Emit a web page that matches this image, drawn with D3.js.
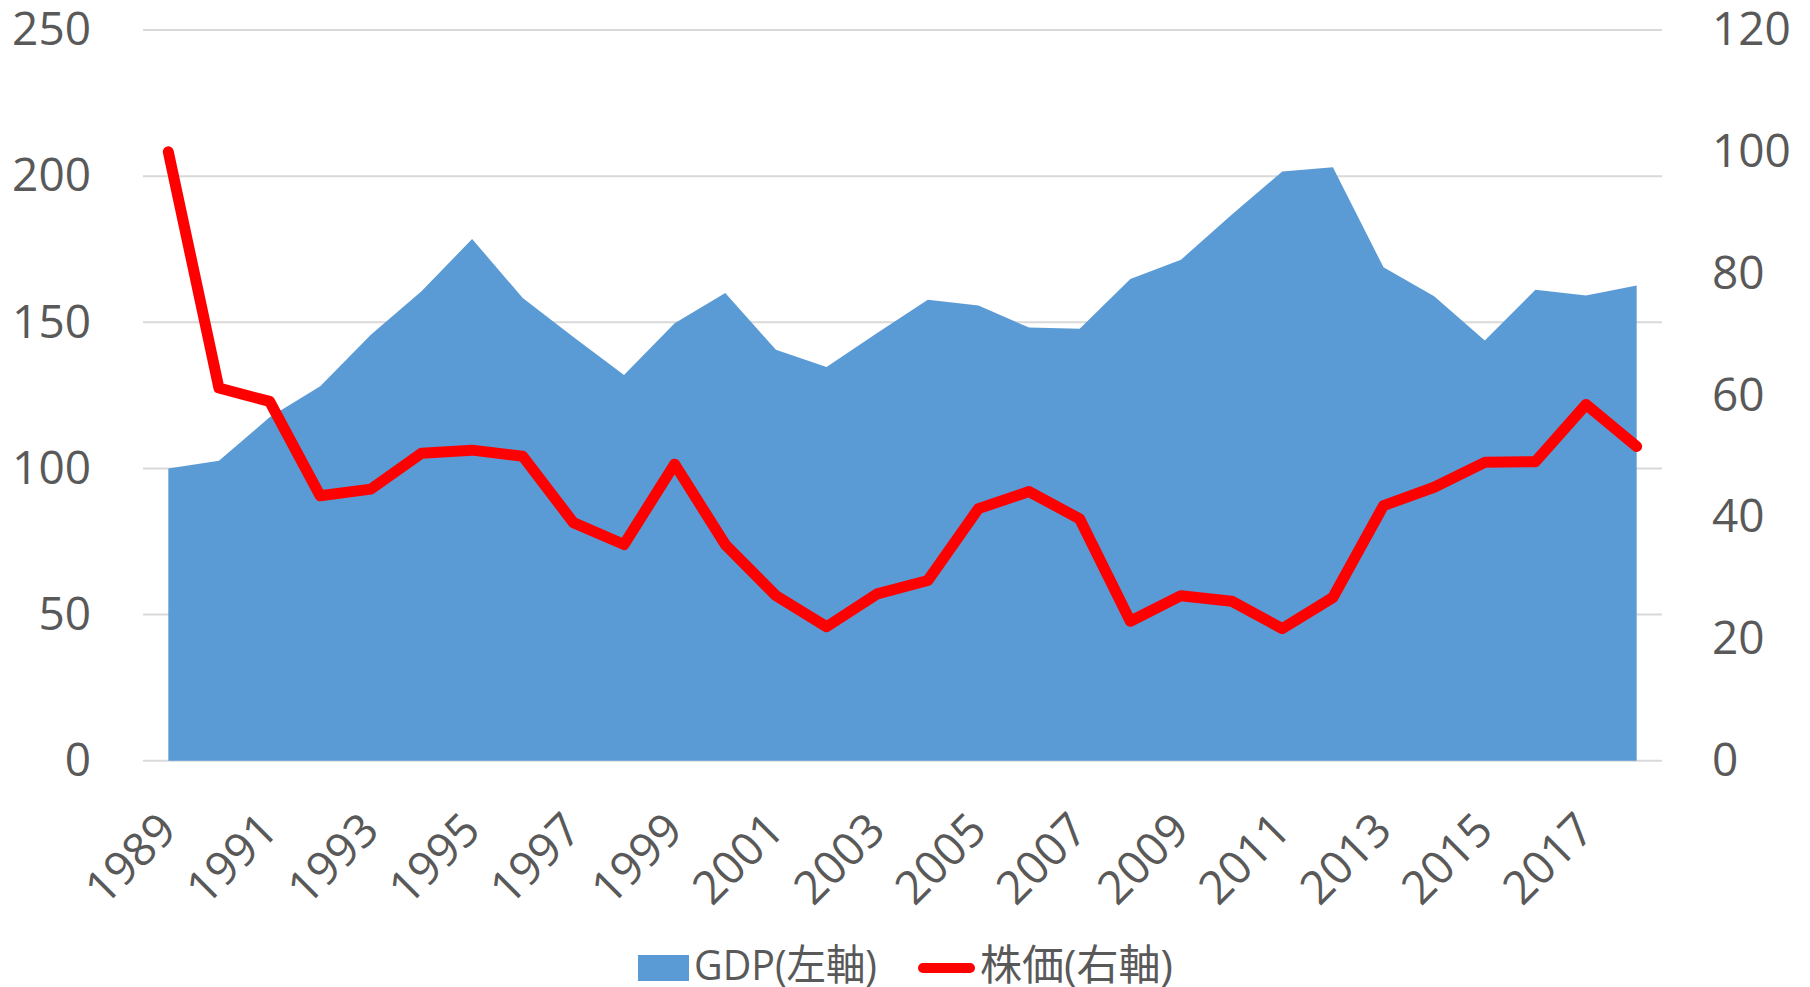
<!DOCTYPE html>
<html>
<head>
<meta charset="utf-8">
<script src="https://cdn.jsdelivr.net/npm/d3@7"></script>
<style>
  body { margin: 0; background: #fff; }
</style>
</head>
<body>
<div id="chart"></div>
<script>
// ── data ──────────────────────────────────────────────────────────────────
const years = [1989, 1990, 1991, 1992, 1993, 1994, 1995, 1996, 1997, 1998,
               1999, 2000, 2001, 2002, 2003, 2004, 2005, 2006, 2007, 2008,
               2009, 2010, 2011, 2012, 2013, 2014, 2015, 2016, 2017, 2018];
const gdp = [100, 102.6, 117.5, 128.1, 145.7, 160.6, 178.5, 158.3, 145, 132,
             149.7, 160, 140.6, 134.7, 146.3, 157.7, 155.7, 148.2, 147.8, 164.8,
             171.4, 186.8, 201.6, 203, 168.8, 158.9, 143.8, 161.1, 159.2, 162.6];
const stock = [100, 61.2, 59, 43.5, 44.6, 50.5, 51, 50, 39.1, 35.5,
               48.7, 35.5, 27.1, 22, 27.4, 29.6, 41.4, 44.2, 39.7, 22.9,
               27.1, 26.2, 21.7, 26.8, 41.9, 44.9, 49, 49.1, 58.5, 51.6];
const leftTicks = [0, 50, 100, 150, 200, 250];
const rightTicks = [0, 20, 40, 60, 80, 100, 120];
const yearTicks = [1989, 1991, 1993, 1995, 1997, 1999, 2001, 2003,
                   2005, 2007, 2009, 2011, 2013, 2015, 2017];
const seriesNames = ['GDP(左軸)', '株価(右軸)'];

const W = 1810, H = 987;
const PLOT_L = 143, PLOT_R = 1662, PLOT_T = 30, PLOT_B = 760.7;
const AREA_COLOR = '#5B9BD5';
const LINE_COLOR = '#FF0000';
const TEXT_COLOR = '#595959';
const GRID_COLOR = '#D9D9D9';
const FONT = '"Open Sans", "Noto Sans CJK JP", sans-serif';

const svg = d3.select('#chart').append('svg')
  .attr('width', W).attr('height', H)
  .attr('viewBox', `0 0 ${W} ${H}`);

const x = d3.scalePoint().domain(years).range([PLOT_L, PLOT_R]).padding(0.5);
const yL = d3.scaleLinear().domain([0, 250]).range([PLOT_B, PLOT_T]);
const yR = d3.scaleLinear().domain([0, 120]).range([PLOT_B, PLOT_T]);

// ── gridlines ─────────────────────────────────────────────────────────────
svg.append('g').selectAll('line').data(leftTicks).join('line')
  .attr('x1', PLOT_L).attr('x2', PLOT_R)
  .attr('y1', (d) => yL(d)).attr('y2', (d) => yL(d))
  .attr('stroke', GRID_COLOR).attr('stroke-width', 2);

// ── GDP area ──────────────────────────────────────────────────────────────
const area = d3.area()
  .x((d, i) => x(years[i]))
  .y0(yL(0))
  .y1((d) => yL(d));
svg.append('path').datum(gdp)
  .attr('d', area)
  .attr('fill', AREA_COLOR);

// ── stock line ────────────────────────────────────────────────────────────
const line = d3.line()
  .x((d, i) => x(years[i]))
  .y((d) => yR(d));
svg.append('path').datum(stock)
  .attr('d', line)
  .attr('fill', 'none')
  .attr('stroke', LINE_COLOR)
  .attr('stroke-width', 11)
  .attr('stroke-linejoin', 'round')
  .attr('stroke-linecap', 'round');

// ── axes ──────────────────────────────────────────────────────────────────
function styleAxis(g) {
  g.select('.domain').remove();
  g.selectAll('text')
    .attr('fill', TEXT_COLOR)
    .attr('font-family', FONT)
    .attr('font-size', '46px');
}

svg.append('g')
  .attr('transform', `translate(${PLOT_L},0)`)
  .call(d3.axisLeft(yL).tickValues(leftTicks).tickSize(0).tickPadding(52))
  .call(styleAxis);

svg.append('g')
  .attr('transform', `translate(${PLOT_R},0)`)
  .call(d3.axisRight(yR).tickValues(rightTicks).tickSize(0).tickPadding(50))
  .call(styleAxis);

const xAxis = svg.append('g')
  .attr('transform', `translate(0,${PLOT_B})`)
  .call(d3.axisBottom(x).tickValues(yearTicks).tickSize(0).tickFormat(d3.format('d')))
  .call(styleAxis);
xAxis.selectAll('text')
  .attr('font-size', '46px')
  .attr('text-anchor', 'end')
  .attr('dy', null)
  .attr('y', 0)
  .attr('transform', 'translate(10,72) rotate(-45)');

// ── legend ────────────────────────────────────────────────────────────────
const legend = svg.append('g')
  .attr('font-family', FONT)
  .attr('font-size', '42px')
  .attr('fill', TEXT_COLOR);

legend.append('rect')
  .attr('x', 638).attr('y', 955).attr('width', 51).attr('height', 26)
  .attr('fill', AREA_COLOR);
legend.append('text')
  .attr('x', 694).attr('y', 980)
  .attr('textLength', 183)
  .attr('lengthAdjust', 'spacingAndGlyphs')
  .text(seriesNames[0]);

legend.append('line')
  .attr('x1', 923).attr('x2', 970).attr('y1', 968).attr('y2', 968)
  .attr('stroke', LINE_COLOR).attr('stroke-width', 10)
  .attr('stroke-linecap', 'round');
legend.append('text')
  .attr('x', 980).attr('y', 980)
  .text(seriesNames[1]);
</script>
</body>
</html>
